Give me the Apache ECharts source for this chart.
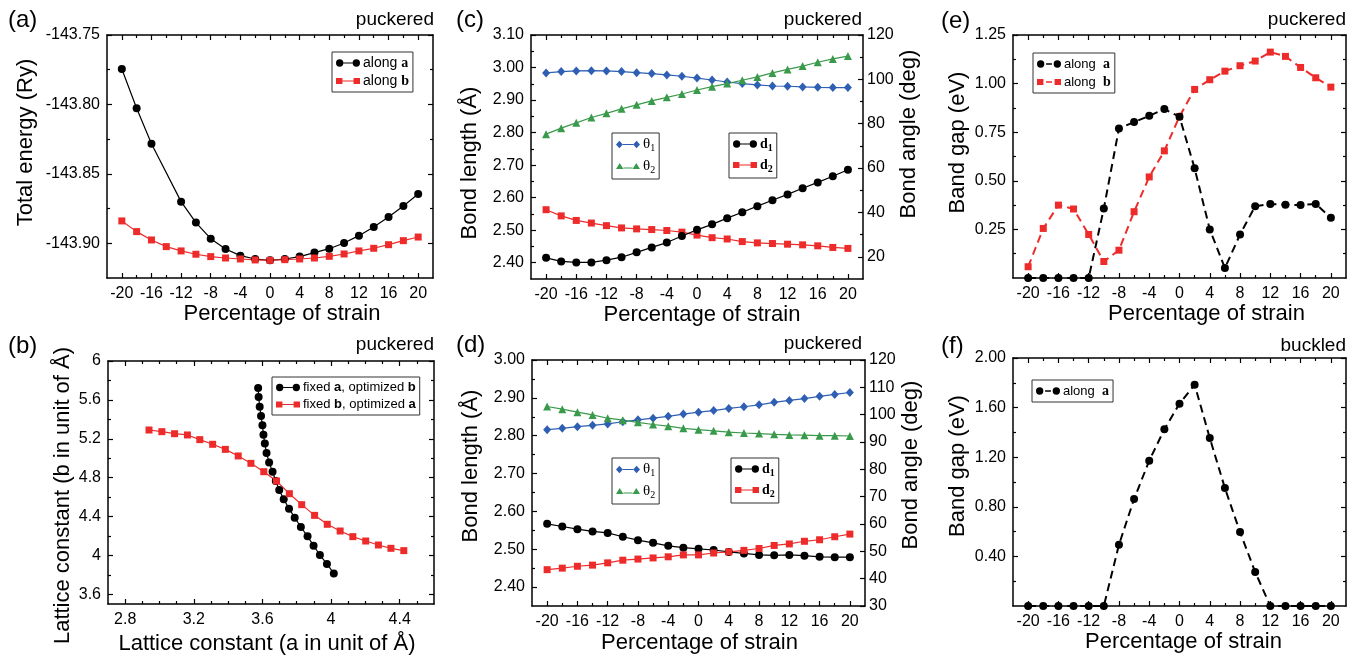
<!DOCTYPE html>
<html>
<head>
<meta charset="utf-8">
<title>strain panels</title>
<script src="https://cdn.jsdelivr.net/npm/echarts@6/dist/echarts.min.js"></script>
<style>
  html, body { margin: 0; padding: 0; background: #fff; }
  #chart { width: 1362px; height: 661px; }
</style>
</head>
<body>
<div id="chart"></div>
<script>
// strain axis shared by panels a, c, d, e, f
const strain = [-20, -18, -16, -14, -12, -10, -8, -6, -4, -2, 0, 2, 4, 6, 8, 10, 12, 14, 16, 18, 20];
const strainTicks = [-20, -16, -12, -8, -4, 0, 4, 8, 12, 16, 20];
const strainMinor = [-18, -14, -10, -6, -2, 2, 6, 10, 14, 18];

// (a) total energy (Ry)
const energyAlongA = [-143.7745, -143.8028, -143.8283, null, -143.8700, -143.8851, -143.8967, -143.9041, -143.9089, -143.9113, -143.9123,
  -143.9113, -143.9096, -143.9067, -143.9039, -143.8998, -143.8945, -143.8883, -143.8811, -143.8731, -143.8645];
const energyAlongB = [-143.8839, -143.8916, -143.8976, -143.9024, -143.9055, -143.9079, -143.9096, -143.9106, -143.9113, -143.9120, -143.9123,
  -143.9118, -143.9113, -143.9106, -143.9094, -143.9077, -143.9055, -143.9036, -143.9010, -143.8981, -143.8955];
const energyTicks = [-143.90, -143.85, -143.80, -143.75];
const energyMinor = [-143.875, -143.825, -143.775];

// (b) lattice constants
const fixA_a = [3.575, 3.578, 3.584, 3.592, 3.600, 3.606, 3.614, 3.624, 3.639, 3.659, 3.678, 3.698, 3.724, 3.755, 3.788, 3.824, 3.863, 3.898, 3.935, 3.976, 4.016];
const fixA_b = [5.722, 5.630, 5.530, 5.434, 5.338, 5.242, 5.150, 5.053, 4.957, 4.861, 4.765, 4.673, 4.577, 4.481, 4.388, 4.292, 4.196, 4.100, 4.004, 3.912, 3.815];
const fixB_a = [2.939, 3.014, 3.088, 3.163, 3.235, 3.310, 3.384, 3.459, 3.533, 3.608, 3.682, 3.757, 3.829, 3.904, 3.978, 4.053, 4.127, 4.202, 4.276, 4.349, 4.424];
const fixB_b = [5.290, 5.273, 5.252, 5.239, 5.191, 5.143, 5.091, 5.023, 4.947, 4.861, 4.765, 4.635, 4.522, 4.412, 4.320, 4.251, 4.193, 4.148, 4.107, 4.073, 4.049];
const latAxTicks = [2.8, 3.2, 3.6, 4.0, 4.4];
const latAxMinor = [2.9, 3.0, 3.1, 3.3, 3.4, 3.5, 3.7, 3.8, 3.9, 4.1, 4.2, 4.3, 4.5];
const latBTicks = [3.6, 4.0, 4.4, 4.8, 5.2, 5.6, 6.0];
const latBMinor = [3.8, 4.2, 4.6, 5.0, 5.4, 5.8];

// (c) bond length / angle, strain along a
const theta1C = [102.9, 103.5, 103.8, 103.9, 103.8, 103.5, 103.0, 102.6, 102.0, 101.4, 100.6, 99.7, 98.8, 98.1, 97.5, 97.0, 96.9, 96.6, 96.4, 96.3, 96.3];
const theta2C = [75.3, 78.0, 80.4, 82.8, 84.7, 86.7, 88.5, 90.3, 91.9, 93.4, 95.2, 96.7, 98.1, 99.6, 101.1, 102.9, 104.5, 106.0, 107.7, 109.2, 110.5];
const d1C = [2.415, 2.404, 2.401, 2.401, 2.408, 2.417, 2.432, 2.447, 2.462, 2.482, 2.501, 2.518, 2.537, 2.555, 2.574, 2.592, 2.610, 2.629, 2.647, 2.666, 2.686];
const d2C = [2.563, 2.544, 2.530, 2.522, 2.514, 2.507, 2.504, 2.502, 2.499, 2.494, 2.485, 2.477, 2.473, 2.465, 2.461, 2.459, 2.457, 2.455, 2.452, 2.447, 2.444];
const bondCTicks = [2.4, 2.5, 2.6, 2.7, 2.8, 2.9, 3.0, 3.1];
const bondCMinor = [2.45, 2.55, 2.65, 2.75, 2.85, 2.95, 3.05];
const angleCTicks = [20, 40, 60, 80, 100, 120];
const angleCMinor = [30, 50, 70, 90, 110];

// (d) bond length / angle, strain along b
const theta1D = [94.5, 95.0, 95.6, 96.1, 96.6, 97.4, 98.1, 98.7, 99.4, 100.2, 100.9, 101.5, 102.3, 102.9, 103.6, 104.5, 105.2, 105.9, 106.7, 107.4, 108.1];
const theta2D = [103.0, 102.0, 100.9, 99.9, 98.7, 98.0, 97.2, 96.4, 95.8, 95.0, 94.5, 94.1, 93.6, 93.3, 93.1, 92.8, 92.6, 92.5, 92.3, 92.3, 92.2];
const d1D = [2.567, 2.560, 2.553, 2.547, 2.543, 2.533, 2.524, 2.517, 2.509, 2.504, 2.501, 2.498, 2.493, 2.489, 2.485, 2.484, 2.485, 2.483, 2.480, 2.479, 2.479];
const d2D = [2.446, 2.450, 2.455, 2.458, 2.464, 2.471, 2.474, 2.477, 2.480, 2.485, 2.485, 2.490, 2.493, 2.497, 2.502, 2.510, 2.514, 2.521, 2.525, 2.533, 2.540];
const bondDTicks = [2.4, 2.5, 2.6, 2.7, 2.8, 2.9, 3.0];
const bondDMinor = [2.45, 2.55, 2.65, 2.75, 2.85, 2.95];
const angleDTicks = [30, 40, 50, 60, 70, 80, 90, 100, 110, 120];

// (e) band gap, puckered
const gapPuckA = [0, 0, 0, 0, 0, 0.357, 0.769, 0.802, 0.834, 0.869, 0.83, 0.564, 0.250, 0.051, 0.224, 0.369, 0.381, 0.377, 0.375, 0.381, 0.310];
const gapPuckB = [0.058, 0.255, 0.375, 0.355, 0.224, 0.085, 0.143, 0.341, 0.520, 0.654, 0.831, 0.970, 1.020, 1.064, 1.092, 1.116, 1.162, 1.140, 1.083, 1.030, 0.982];
const gapETicks = [0.25, 0.5, 0.75, 1.0, 1.25];
const gapEMinor = [0.125, 0.375, 0.625, 0.875, 1.125];

// (f) band gap, buckled
const gapBuckA = [0, 0, 0, 0, 0, 0, 0.494, 0.863, 1.172, 1.425, 1.632, 1.785, 1.355, 0.951, 0.596, 0.274, 0, 0, 0, 0, 0];
const gapFTicks = [0.4, 0.8, 1.2, 1.6, 2.0];
const gapFMinor = [0.2, 0.6, 1.0, 1.4, 1.8];

const RED = '#ee2b2b';
const BLUE = '#2f5fb3';
const GREEN = '#3a9a4b';
const FONT = 'Liberation Sans';

// legend icons: marker - line - marker (30x10 box)
const ICON = {
  circle: 'path://M0.6,5a4.4,4.4 0 1,0 8.8,0a4.4,4.4 0 1,0 -8.8,0Z M9.3,4.4H20.7V5.6H9.3Z M20.6,5a4.4,4.4 0 1,0 8.8,0a4.4,4.4 0 1,0 -8.8,0Z',
  circleDash: 'path://M0.6,5a4.4,4.4 0 1,0 8.8,0a4.4,4.4 0 1,0 -8.8,0Z M11.5,4.2H18.5V5.8H11.5Z M20.6,5a4.4,4.4 0 1,0 8.8,0a4.4,4.4 0 1,0 -8.8,0Z',
  rect: 'path://M1,1.5H8.5V8.5H1Z M8.5,4.4H21.5V5.6H8.5Z M21.5,1.5H29V8.5H21.5Z',
  rectDash: 'path://M1,1.5H8.5V8.5H1Z M11.5,4.2H18.5V5.8H11.5Z M21.5,1.5H29V8.5H21.5Z',
  diamond: 'path://M5,0.5L9,5L5,9.5L1,5Z M9,4.4H21V5.6H9Z M25,0.5L29,5L25,9.5L21,5Z',
  triangle: 'path://M5,1.5L9.5,9H0.5Z M9.5,7.2H20.5V8.4H9.5Z M25,1.5L29.5,9H20.5Z',
};

const chart = echarts.init(document.getElementById('chart'), null, { renderer: 'canvas' });

const grids = [
  { left: 107, top: 35, width: 326, height: 243 },   // a
  { left: 108, top: 361, width: 326, height: 243 },  // b
  { left: 531, top: 35, width: 332, height: 244 },   // c
  { left: 532, top: 360, width: 333, height: 246 },  // d
  { left: 1013, top: 35, width: 333, height: 243 },  // e
  { left: 1013, top: 358, width: 333, height: 248 }, // f
];

const xAxes = [];
const yAxes = [];

function lineOf(show) {
  return { show, onZero: false, lineStyle: { color: '#000', width: 1.5 } };
}
function tickOf(vals, len) {
  return { show: vals.length > 0, inside: true, length: len, customValues: vals, lineStyle: { color: '#000', width: 1.2 } };
}
function labelOf(vals, fmt, margin) {
  return { show: true, customValues: vals, formatter: fmt, margin, color: '#000', fontSize: 16, fontFamily: FONT };
}
// shift > 0 moves a name along its reading direction (right for x names, up for y names)
function nameStyle(shift) {
  const p = Math.abs(shift || 0) * 2;
  return {
    fontSize: 22, fontFamily: FONT, color: '#000',
    padding: shift > 0 ? [0, 0, 0, p] : [0, p, 0, 0],
  };
}

// bottom axis with labels + mirrored top axis, each with major and minor ticks
function addX(grid, min, max, major, minor, fmt, name, nameGap, shift) {
  const base = { gridIndex: grid, type: 'value', min, max, splitLine: { show: false } };
  const idx = xAxes.length;
  xAxes.push(Object.assign({}, base, {
    position: 'bottom', axisLine: lineOf(true), axisTick: tickOf(major, 5), axisLabel: labelOf(major, fmt, 8),
    name, nameLocation: 'middle', nameGap, nameTextStyle: nameStyle(shift),
  }));
  xAxes.push(Object.assign({}, base, { position: 'bottom', axisLine: lineOf(false), axisTick: tickOf(minor, 3), axisLabel: { show: false } }));
  xAxes.push(Object.assign({}, base, { position: 'top', axisLine: lineOf(true), axisTick: tickOf(major, 5), axisLabel: { show: false } }));
  xAxes.push(Object.assign({}, base, { position: 'top', axisLine: lineOf(false), axisTick: tickOf(minor, 3), axisLabel: { show: false } }));
  return idx;
}

function addY(grid, spec, right) {
  const idx = yAxes.length;
  const base = { gridIndex: grid, type: 'value', min: spec.min, max: spec.max, splitLine: { show: false } };
  yAxes.push(Object.assign({}, base, {
    position: 'left', axisLine: lineOf(true), axisTick: tickOf(spec.major, 5), axisLabel: labelOf(spec.major, spec.fmt, 7),
    name: spec.name, nameLocation: 'middle', nameGap: spec.nameGap, nameTextStyle: nameStyle(spec.shift),
  }));
  yAxes.push(Object.assign({}, base, { position: 'left', axisLine: lineOf(false), axisTick: tickOf(spec.minor, 3), axisLabel: { show: false } }));
  const r = right || spec;
  const rbase = { gridIndex: grid, type: 'value', min: r.min, max: r.max, splitLine: { show: false } };
  const ridx = yAxes.length;
  yAxes.push(Object.assign({}, rbase, {
    position: 'right', axisLine: lineOf(true), axisTick: tickOf(r.major, 5),
    axisLabel: right ? labelOf(r.major, r.fmt, 4) : { show: false },
    name: right ? r.name : '', nameLocation: 'middle', nameGap: r.nameGap, nameTextStyle: nameStyle(right ? r.shift : 0),
  }));
  yAxes.push(Object.assign({}, rbase, { position: 'right', axisLine: lineOf(false), axisTick: tickOf(r.minor, 3), axisLabel: { show: false } }));
  return { left: idx, right: ridx };
}

const fmtInt = (v) => String(Math.round(v));
const fmt2 = (v) => v.toFixed(2);
const fmtShort = (v) => String(+v.toFixed(1));
const STRAIN_NAME = 'Percentage of strain';

const xa = addX(0, -22, 22, strainTicks, strainMinor, fmtInt, STRAIN_NAME, 24, 12);
const ya = addY(0, { min: -143.925, max: -143.75, major: energyTicks, minor: energyMinor, fmt: fmt2, name: 'Total energy (Ry)', nameGap: 70, shift: 14 });

const xb = addX(1, 2.7, 4.6, latAxTicks, latAxMinor, fmtShort, 'Lattice constant (a in unit of Å)', 29, -4);
const yb = addY(1, { min: 3.5, max: 6, major: latBTicks, minor: latBMinor, fmt: fmtShort, name: 'Lattice constant (b in unit of Å)', nameGap: 34, shift: -13 });

const xc = addX(2, -22, 22, strainTicks, strainMinor, fmtInt, STRAIN_NAME, 24, 5);
const yc = addY(2,
  { min: 2.35, max: 3.10, major: bondCTicks, minor: bondCMinor, fmt: fmt2, name: 'Bond length (Å)', nameGap: 50, shift: -6 },
  { min: 10, max: 120, major: angleCTicks, minor: angleCMinor, fmt: fmtInt, name: 'Bond angle (deg)', nameGap: 32, shift: 23 });

const xd = addX(3, -22, 22, strainTicks, strainMinor, fmtInt, STRAIN_NAME, 26, 1);
const yd = addY(3,
  { min: 2.35, max: 3.00, major: bondDTicks, minor: bondDMinor, fmt: fmt2, name: 'Bond length (Å)', nameGap: 50, shift: 17 },
  { min: 30, max: 120, major: angleDTicks, minor: [], fmt: fmtInt, name: 'Bond angle (deg)', nameGap: 32, shift: 18 });

const xe = addX(4, -22, 22, strainTicks, strainMinor, fmtInt, STRAIN_NAME, 23, 27);
const ye = addY(4, { min: 0, max: 1.25, major: gapETicks, minor: gapEMinor, fmt: fmt2, name: 'Band gap (eV)', nameGap: 44, shift: 14 });

const xf = addX(5, -22, 22, strainTicks, strainMinor, fmtInt, STRAIN_NAME, 25, 4);
const yf = addY(5, { min: 0, max: 2.0, major: gapFTicks, minor: gapFMinor, fmt: fmt2, name: 'Band gap (eV)', nameGap: 44, shift: 16 });

function zip(xs, ys) {
  return xs.map((x, i) => [x, ys[i]]);
}

function lineSeries(name, xIdx, yIdx, xs, ys, color, symbol, size, dashed) {
  return {
    type: 'line', name, xAxisIndex: xIdx, yAxisIndex: yIdx,
    data: zip(xs, ys), connectNulls: true,
    symbol, symbolSize: size, showSymbol: true,
    itemStyle: { color, opacity: 1 },
    lineStyle: dashed ? { color, width: 2, type: [8, 5] } : { color, width: 1.2 },
    emphasis: { disabled: true },
    animation: false,
  };
}

const series = [
  lineSeries('a-along-a', xa, ya.left, strain, energyAlongA, '#000', 'circle', 8),
  lineSeries('a-along-b', xa, ya.left, strain, energyAlongB, RED, 'rect', 7),

  lineSeries('b-fixA', xb, yb.left, fixA_a, fixA_b, '#000', 'circle', 8),
  lineSeries('b-fixB', xb, yb.left, fixB_a, fixB_b, RED, 'rect', 7),

  lineSeries('c-t1', xc, yc.right, strain, theta1C, BLUE, 'diamond', [8, 9]),
  lineSeries('c-t2', xc, yc.right, strain, theta2C, GREEN, 'triangle', 8),
  lineSeries('c-d2', xc, yc.left, strain, d2C, RED, 'rect', 7),
  lineSeries('c-d1', xc, yc.left, strain, d1C, '#000', 'circle', 8),

  lineSeries('d-t1', xd, yd.right, strain, theta1D, BLUE, 'diamond', [8, 9]),
  lineSeries('d-t2', xd, yd.right, strain, theta2D, GREEN, 'triangle', 8),
  lineSeries('d-d1', xd, yd.left, strain, d1D, '#000', 'circle', 8),
  lineSeries('d-d2', xd, yd.left, strain, d2D, RED, 'rect', 7),

  lineSeries('e-along-b', xe, ye.left, strain, gapPuckB, RED, 'rect', 7, true),
  lineSeries('e-along-a', xe, ye.left, strain, gapPuckA, '#000', 'circle', 8, true),

  lineSeries('f-along-a', xf, yf.left, strain, gapBuckA, '#000', 'circle', 8, true),
];

const legendText = {
  'a-along-a': 'along {sb|a}', 'a-along-b': 'along {sb|b}',
  'b-fixA': 'fixed {bb|a}, optimized {bb|b}', 'b-fixB': 'fixed {bb|b}, optimized {bb|a}',
  'c-t1': '{th|θ}{sub|1}', 'c-t2': '{th|θ}{sub|2}', 'c-d1': '{sb|d}{sbsub|1}', 'c-d2': '{sb|d}{sbsub|2}',
  'd-t1': '{th|θ}{sub|1}', 'd-t2': '{th|θ}{sub|2}', 'd-d1': '{sb|d}{sbsub|1}', 'd-d2': '{sb|d}{sbsub|2}',
  'e-along-a': 'along  {sb|a}', 'e-along-b': 'along  {sb|b}',
  'f-along-a': 'along  {sb|a}',
};

const richText = {
  sb: { fontFamily: 'Liberation Serif', fontWeight: 'bold', fontSize: 14, color: '#000' },
  sbsub: { fontFamily: 'Liberation Serif', fontWeight: 'bold', fontSize: 10, color: '#000', padding: [8, 0, 0, 0] },
  bb: { fontFamily: FONT, fontWeight: 'bold', fontSize: 13, color: '#000' },
  th: { fontFamily: 'Liberation Serif', fontSize: 15, color: '#000' },
  sub: { fontFamily: 'Liberation Serif', fontSize: 10, color: '#000', padding: [8, 0, 0, 0] },
};

function legendBox(items, left, top, size, gap) {
  return {
    data: items.map((it) => ({ name: it[0], icon: ICON[it[1]] })),
    left, top, orient: 'vertical',
    itemWidth: 24, itemHeight: 8, itemGap: gap || 4,
    padding: [4, 4, 4, 4],
    borderColor: '#333', borderWidth: 1, backgroundColor: '#fff',
    selectedMode: false,
    formatter: (n) => legendText[n],
    textStyle: { fontFamily: FONT, fontSize: size || 14, color: '#000', rich: richText, padding: [0, 0, 0, -2] },
  };
}

const legends = [
  legendBox([['a-along-a', 'circle'], ['a-along-b', 'rect']], 332, 52),
  legendBox([['b-fixA', 'circle'], ['b-fixB', 'rect']], 272, 377, 13),
  legendBox([['c-t1', 'diamond'], ['c-t2', 'triangle']], 612, 133, 14, 5),
  legendBox([['c-d1', 'circle'], ['c-d2', 'rect']], 729, 133, 14, 5),
  legendBox([['d-t1', 'diamond'], ['d-t2', 'triangle']], 612, 458, 14, 5),
  legendBox([['d-d1', 'circle'], ['d-d2', 'rect']], 731, 458, 14, 5),
  legendBox([['e-along-a', 'circleDash'], ['e-along-b', 'rectDash']], 1033, 53, 13),
  legendBox([['f-along-a', 'circleDash']], 1032, 380, 13),
];

function panelText(text, left, top, size) {
  return { text, left, top, padding: 0, textStyle: { fontFamily: FONT, fontSize: size, fontWeight: 'normal', color: '#000' } };
}
function tagText(text, rightEdge, top) {
  return { text, right: 1362 - rightEdge, top, padding: 0, textStyle: { fontFamily: FONT, fontSize: 19, fontWeight: 'normal', color: '#000' } };
}

const titles = [
  panelText('(a)', 8, 8, 24), tagText('puckered', 434, 10),
  panelText('(b)', 8, 334, 24), tagText('puckered', 434, 335),
  panelText('(c)', 456, 8, 24), tagText('puckered', 862, 10),
  panelText('(d)', 456, 333, 24), tagText('puckered', 862, 334),
  panelText('(e)', 941, 9, 24), tagText('puckered', 1346, 10),
  panelText('(f)', 941, 334, 24), tagText('buckled', 1346, 336),
];

chart.setOption({
  animation: false,
  backgroundColor: '#fff',
  title: titles,
  grid: grids,
  xAxis: xAxes,
  yAxis: yAxes,
  legend: legends,
  series,
});

window.addEventListener('resize', () => {
  chart.resize();
});
</script>
</body>
</html>
